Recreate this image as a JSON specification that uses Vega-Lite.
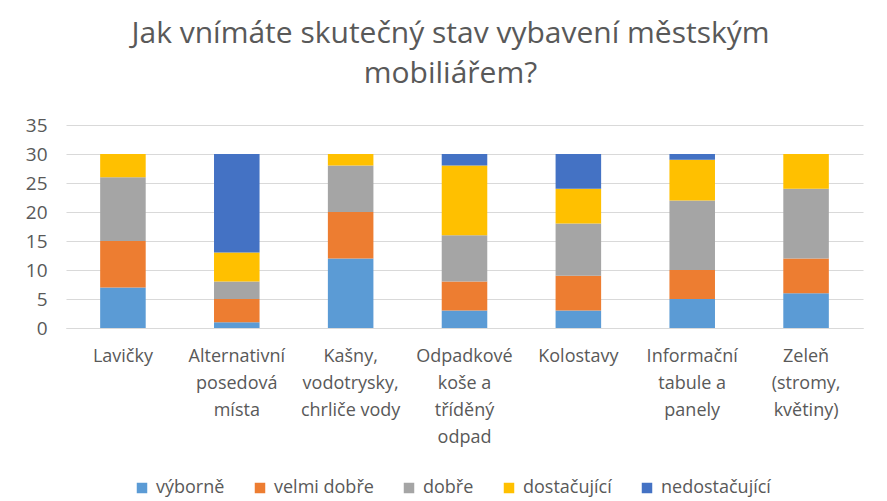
{
  "$schema": "https://vega.github.io/schema/vega-lite/v6.json",
  "width": 797,
  "height": 203,
  "autosize": "none",
  "padding": {"left": 66, "top": 125, "right": 24, "bottom": 173},
  "background": "white",
  "title": {
    "text": ["Jak vnímáte skutečný stav vybavení městským", "mobiliářem?"],
    "font": "Open Sans",
    "fontSize": 30,
    "fontWeight": "normal",
    "color": "#595959",
    "lineHeight": 40,
    "anchor": "middle",
    "dx": -14,
    "offset": 27
  },
  "data": {
    "values": [
      {"misto": "Lavičky", "hodnoceni": "výborně", "poradi": 1, "pocet": 7},
      {"misto": "Lavičky", "hodnoceni": "velmi dobře", "poradi": 2, "pocet": 8},
      {"misto": "Lavičky", "hodnoceni": "dobře", "poradi": 3, "pocet": 11},
      {"misto": "Lavičky", "hodnoceni": "dostačující", "poradi": 4, "pocet": 4},
      {"misto": "Lavičky", "hodnoceni": "nedostačující", "poradi": 5, "pocet": 0},
      {"misto": "Alternativní|posedová|místa", "hodnoceni": "výborně", "poradi": 1, "pocet": 1},
      {"misto": "Alternativní|posedová|místa", "hodnoceni": "velmi dobře", "poradi": 2, "pocet": 4},
      {"misto": "Alternativní|posedová|místa", "hodnoceni": "dobře", "poradi": 3, "pocet": 3},
      {"misto": "Alternativní|posedová|místa", "hodnoceni": "dostačující", "poradi": 4, "pocet": 5},
      {"misto": "Alternativní|posedová|místa", "hodnoceni": "nedostačující", "poradi": 5, "pocet": 17},
      {"misto": "Kašny,|vodotrysky,|chrliče vody", "hodnoceni": "výborně", "poradi": 1, "pocet": 12},
      {"misto": "Kašny,|vodotrysky,|chrliče vody", "hodnoceni": "velmi dobře", "poradi": 2, "pocet": 8},
      {"misto": "Kašny,|vodotrysky,|chrliče vody", "hodnoceni": "dobře", "poradi": 3, "pocet": 8},
      {"misto": "Kašny,|vodotrysky,|chrliče vody", "hodnoceni": "dostačující", "poradi": 4, "pocet": 2},
      {"misto": "Kašny,|vodotrysky,|chrliče vody", "hodnoceni": "nedostačující", "poradi": 5, "pocet": 0},
      {"misto": "Odpadkové|koše a|tříděný|odpad", "hodnoceni": "výborně", "poradi": 1, "pocet": 3},
      {"misto": "Odpadkové|koše a|tříděný|odpad", "hodnoceni": "velmi dobře", "poradi": 2, "pocet": 5},
      {"misto": "Odpadkové|koše a|tříděný|odpad", "hodnoceni": "dobře", "poradi": 3, "pocet": 8},
      {"misto": "Odpadkové|koše a|tříděný|odpad", "hodnoceni": "dostačující", "poradi": 4, "pocet": 12},
      {"misto": "Odpadkové|koše a|tříděný|odpad", "hodnoceni": "nedostačující", "poradi": 5, "pocet": 2},
      {"misto": "Kolostavy", "hodnoceni": "výborně", "poradi": 1, "pocet": 3},
      {"misto": "Kolostavy", "hodnoceni": "velmi dobře", "poradi": 2, "pocet": 6},
      {"misto": "Kolostavy", "hodnoceni": "dobře", "poradi": 3, "pocet": 9},
      {"misto": "Kolostavy", "hodnoceni": "dostačující", "poradi": 4, "pocet": 6},
      {"misto": "Kolostavy", "hodnoceni": "nedostačující", "poradi": 5, "pocet": 6},
      {"misto": "Informační|tabule a|panely", "hodnoceni": "výborně", "poradi": 1, "pocet": 5},
      {"misto": "Informační|tabule a|panely", "hodnoceni": "velmi dobře", "poradi": 2, "pocet": 5},
      {"misto": "Informační|tabule a|panely", "hodnoceni": "dobře", "poradi": 3, "pocet": 12},
      {"misto": "Informační|tabule a|panely", "hodnoceni": "dostačující", "poradi": 4, "pocet": 7},
      {"misto": "Informační|tabule a|panely", "hodnoceni": "nedostačující", "poradi": 5, "pocet": 1},
      {"misto": "Zeleň|(stromy,|květiny)", "hodnoceni": "výborně", "poradi": 1, "pocet": 6},
      {"misto": "Zeleň|(stromy,|květiny)", "hodnoceni": "velmi dobře", "poradi": 2, "pocet": 6},
      {"misto": "Zeleň|(stromy,|květiny)", "hodnoceni": "dobře", "poradi": 3, "pocet": 12},
      {"misto": "Zeleň|(stromy,|květiny)", "hodnoceni": "dostačující", "poradi": 4, "pocet": 6},
      {"misto": "Zeleň|(stromy,|květiny)", "hodnoceni": "nedostačující", "poradi": 5, "pocet": 0}
    ]
  },
  "mark": {"type": "bar"},
  "encoding": {
    "x": {
      "field": "misto",
      "type": "nominal",
      "sort": null,
      "scale": {"paddingInner": 0.6, "paddingOuter": 0.3},
      "axis": {
        "title": null,
        "labelAngle": 0,
        "labelExpr": "split(datum.label, '|')",
        "labelFont": "Open Sans",
        "labelFontSize": 18,
        "labelColor": "#595959",
        "labelLineHeight": 27,
        "labelPadding": 19,
        "ticks": false,
        "domainColor": "#d9d9d9",
        "labelLimit": 200
      }
    },
    "y": {
      "field": "pocet",
      "type": "quantitative",
      "stack": "zero",
      "scale": {"domain": [0, 35]},
      "axis": {
        "title": null,
        "values": [0, 5, 10, 15, 20, 25, 30, 35],
        "labelFont": "Open Sans",
        "labelFontSize": 19,
        "labelColor": "#595959",
        "labelPadding": 19,
        "ticks": false,
        "domain": false,
        "gridColor": "#d9d9d9",
        "gridWidth": 1.2
      }
    },
    "color": {
      "field": "hodnoceni",
      "type": "nominal",
      "scale": {
        "domain": ["výborně", "velmi dobře", "dobře", "dostačující", "nedostačující"],
        "range": ["#5B9BD5", "#ED7D31", "#A5A5A5", "#FFC000", "#4472C4"]
      },
      "legend": {
        "title": null,
        "orient": "none",
        "direction": "horizontal",
        "legendX": 67,
        "legendY": 354,
        "symbolType": "square",
        "symbolSize": 110,
        "symbolStrokeWidth": 0,
        "labelFont": "Open Sans",
        "labelFontSize": 18,
        "labelColor": "#595959",
        "columnPadding": 26,
        "labelOffset": 5
      }
    },
    "order": {"field": "poradi", "type": "quantitative"}
  },
  "config": {"view": {"stroke": null}}
}
